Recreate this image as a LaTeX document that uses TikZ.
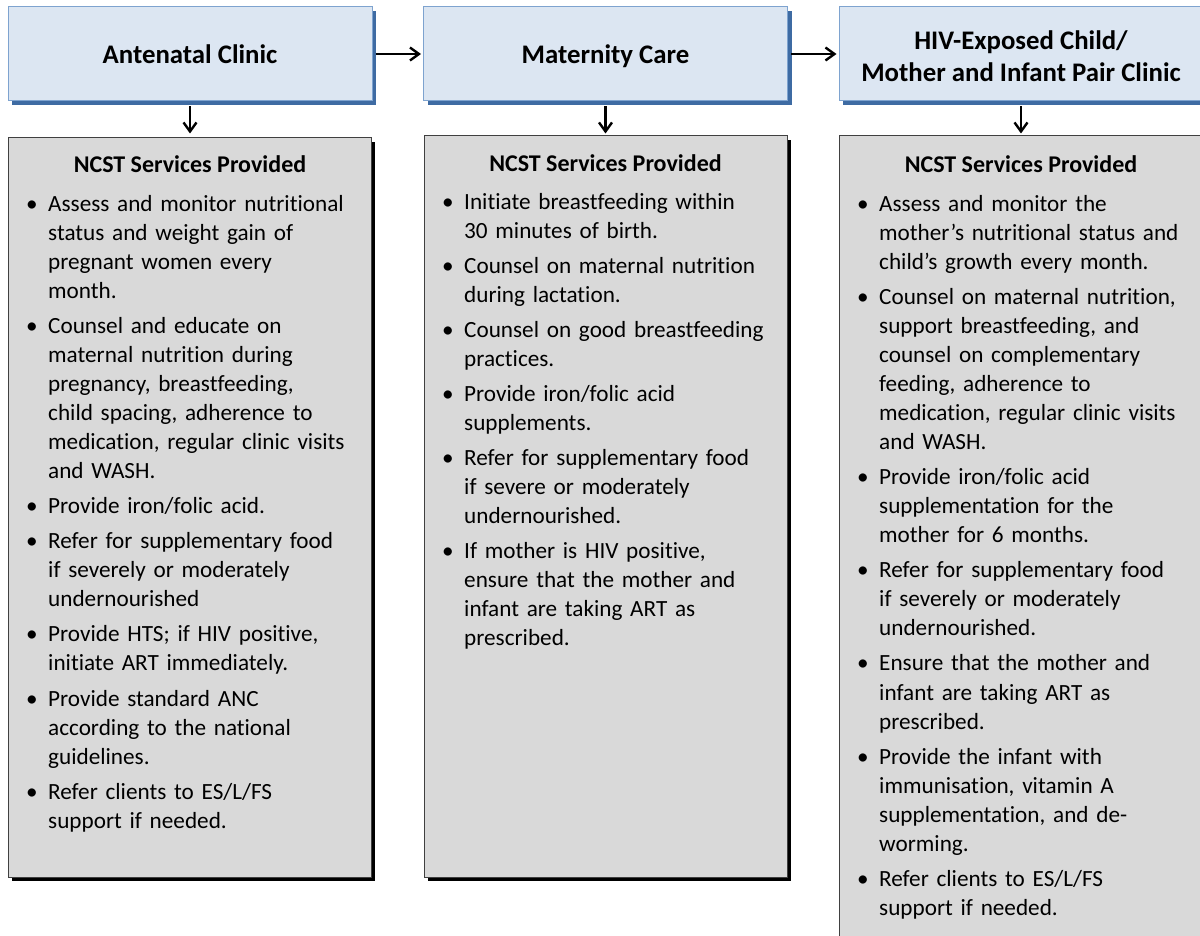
\documentclass[tikz,border=0pt]{standalone}
\usepackage{fontspec}
\setmainfont{Carlito}[Ligatures=NoCommon]
\usetikzlibrary{arrows.meta,shadows}
\definecolor{hdrfill}{HTML}{DCE6F2}
\definecolor{hdrline}{HTML}{7EA3CF}
\definecolor{hdrshade}{HTML}{3E6BA3}
\definecolor{boxfill}{HTML}{D9D9D9}
\definecolor{boxline}{HTML}{404040}
\newcommand\bul{\makebox[20pt][l]{\hspace{-2pt}\textbullet}}
\newcommand\fitm{\noindent\hangindent=20pt\hangafter=1\strut\bul}
\newcommand\itm{\par\fitm}
\newcommand\lstsetup{\raggedright\hyphenpenalty=10000\setlength{\parskip}{6pt}}
\tikzset{
  hdr/.style={draw=hdrline, line width=1pt, fill=hdrfill, minimum width=364pt,
    minimum height=94pt, inner sep=0pt, font=\fontsize{26.8}{32}\selectfont\bfseries,
    align=center, drop shadow={shadow xshift=4pt, shadow yshift=-4pt, fill=hdrshade, opacity=1}},
  oneline/.style={text height=18.4pt, text depth=0pt},
  svcbox/.style={draw=boxline, line width=1pt, fill=boxfill, inner sep=0pt,
    drop shadow={shadow xshift=4pt, shadow yshift=-4pt, fill=black, opacity=1}},
  ttl/.style={anchor=base, inner sep=0pt, font=\fontsize{24}{29}\selectfont\bfseries},
  lst/.style={anchor=north west, inner sep=0pt, text width=360pt, font=\fontsize{23.2}{29.05}\selectfont},
  arr/.style={line width=2.4pt, -{Straight Barb[length=9pt,width=13pt]}},
}
\begin{document}
\begin{tikzpicture}[x=1pt,y=-1pt]
\useasboundingbox (0,0) rectangle (1200,936);
\clip (0,0) rectangle (1200,936);
% header boxes
\node[hdr, oneline] (h1) at (190,54) {Antenatal Clinic};
\node[hdr, oneline] (h2) at (605.5,54) {Maternity Care};
\node[hdr] (h3) at (1021,54) {\rule{0pt}{27.6pt}HIV-Exposed Child/\\\rule[-4.4pt]{0pt}{4.4pt}Mother and Infant Pair Clinic};
% service boxes
\node[svcbox, minimum width=363pt, minimum height=739pt] (g1) at (189.5,507.5) {};
\node[svcbox, minimum width=363pt, minimum height=741pt] (g2) at (605.5,506.5) {};
\node[svcbox, minimum width=364pt, minimum height=830pt] (g3) at (1021,551) {};
% titles
\node[ttl] (t1) at (190,172.5) {NCST Services Provided};
\node[ttl] (t2) at (605.5,171.5) {NCST Services Provided};
\node[ttl] (t3) at (1021,172.5) {NCST Services Provided};
% lists
\node[lst] (l1) at (28,190.7) {\lstsetup
\fitm Assess and monitor nutritional\newline status and weight gain of\newline pregnant women every\newline month.
\itm Counsel and educate on\newline maternal nutrition during\newline pregnancy, breastfeeding,\newline child spacing, adherence to\newline medication, regular clinic visits\newline and WASH.
\itm Provide iron/folic acid.
\itm Refer for supplementary food\newline if severely or moderately\newline undernourished
\itm Provide HTS; if HIV positive,\newline initiate ART immediately.
\itm Provide standard ANC\newline according to the national\newline guidelines.
\itm Refer clients to ES/L/FS\newline support if needed.\par};
\node[lst] (l2) at (444,188.7) {\lstsetup
\fitm Initiate breastfeeding within\newline 30 minutes of birth.
\itm Counsel on maternal nutrition\newline during lactation.
\itm Counsel on good breastfeeding\newline practices.
\itm Provide iron/folic acid\newline supplements.
\itm Refer for supplementary food\newline if severe or moderately\newline undernourished.
\itm If mother is HIV positive,\newline ensure that the mother and\newline infant are taking ART as\newline prescribed.\par};
\node[lst] (l3) at (859,190.7) {\lstsetup
\fitm Assess and monitor the\newline mother’s nutritional status and\newline child’s growth every month.
\itm Counsel on maternal nutrition,\newline support breastfeeding, and\newline counsel on complementary\newline feeding, adherence to\newline medication, regular clinic visits\newline and WASH.
\itm Provide iron/folic acid\newline supplementation for the\newline mother for 6 months.
\itm Refer for supplementary food\newline if severely or moderately\newline undernourished.
\itm Ensure that the mother and\newline infant are taking ART as\newline prescribed.
\itm Provide the infant with\newline immunisation, vitamin A\newline supplementation, and de-\newline worming.
\itm Refer clients to ES/L/FS\newline support if needed.\par};
% connectors
\draw[arr, shorten <=3pt, shorten >=2pt] (h1.east) -- (h2.west);
\draw[arr, shorten <=3pt, shorten >=2pt] (h2.east) -- (h3.west);
\draw[arr, shorten <=5pt, shorten >=4pt] (h1.south) -- (h1.south |- g1.north);
\draw[arr, shorten <=5pt, shorten >=2pt] (h2.south) -- (h2.south |- g2.north);
\draw[arr, shorten <=5pt, shorten >=2pt] (h3.south) -- (h3.south |- g3.north);
\end{tikzpicture}
\end{document}
